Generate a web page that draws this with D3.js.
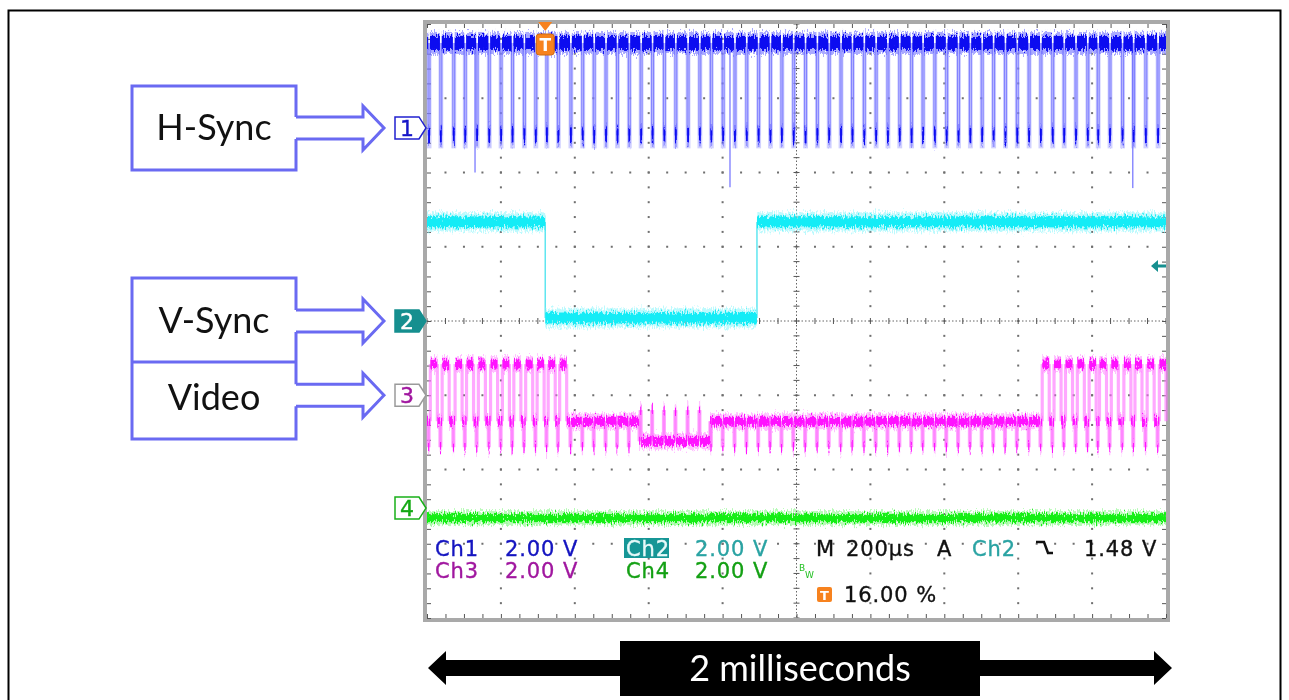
<!DOCTYPE html>
<html><head><meta charset="utf-8">
<script src="https://cdn.jsdelivr.net/npm/d3@7"></script>
<style>body{margin:0;background:#fff}svg{display:block}</style>
</head><body>
<svg id="c" width="1289" height="700"></svg>
<script>
// ---------------- data ----------------
const timeDomainUs = [0, 2000];          // 10 div x 200 µs
const divDomain = [-4, 4];               // 8 vertical divisions
const channelNames = ["Ch1", "Ch2", "Ch3", "Ch4"];
const channelVoltsPerDiv = [2, 2, 2, 2];
const channelPositionDiv = [2.6, 0, -1.0, -2.52];
const channelScaleLabels = ["2.00 V", "2.00 V", "2.00 V", "2.00 V"];

// Ch1 : H-Sync
const hsyncPulseUs = [3, 35, 70, 101, 133, 166, 198, 229, 261, 292, 322, 353, 387, 419, 450, 482, 513, 545, 577, 608, 640, 671,
  704, 736, 767, 799, 831, 863, 895, 927, 958, 990, 1022, 1054, 1086, 1118, 1149, 1181, 1213, 1245, 1277, 1309, 1340,
  1372, 1404, 1436, 1468, 1500, 1531, 1563, 1595, 1627, 1659, 1691, 1722, 1754, 1786, 1814, 1846, 1880, 1910, 1943, 1976];
const hsyncPulseWidthUs = 5;
const hsyncHighV = 2.29, hsyncLowV = -0.2, hsyncTipV = -0.55;
const hsyncDeepUs = [130, 820, 1910];
const hsyncDeepV = [-1.2, -1.6, -1.62];

// Ch2 : V-Sync
const vsyncStepUs = [0, 320, 893];
const vsyncStepV = [2.67, 0.08, 2.67];

// Ch3 : Video
const videoSegmentUs = [0, 382, 574, 766, 1656, 2000];
const videoSegmentKind = ["active", "blank", "low", "blank", "active"];
const videoWhiteV = 0.84, videoBlankV = -0.70, videoLowV = -1.24, videoSpikeDownV = -1.40, videoSpikeUpV = -0.40;
const videoWhiteFromUs = 6, videoWhiteToUs = 25, videoSpikeUs = 2.5;

// Ch4
const ch4LevelV = -0.27;

// readout
const timebaseLabel = ["M", "200µs"];
const triggerSource = "Ch2";
const triggerLevelV = 1.48;
const triggerLevelLabel = "1.48 V";
const triggerPositionPct = 16;
const triggerPositionLabel = "16.00 %";

// ---------------- drawing ----------------
const svg = d3.select("#c");
const plot = {left: 427, right: 1166, top: 24, bottom: 618};
const x = d3.scaleLinear().domain(timeDomainUs).range([plot.left, plot.right]);
const yDiv = d3.scaleLinear().domain(divDomain).range([plot.bottom, plot.top]);
const yCh = (ch, v) => yDiv(channelPositionDiv[ch] + v / channelVoltsPerDiv[ch]);

const defs = svg.append("defs");
const f = defs.append("filter").attr("id", "fuzz").attr("filterUnits", "userSpaceOnUse")
  .attr("x", 0).attr("y", 0).attr("width", 1289).attr("height", 700)
  .attr("color-interpolation-filters", "sRGB");
f.append("feTurbulence").attr("type", "fractalNoise").attr("baseFrequency", "0.9 0.25")
  .attr("numOctaves", 2).attr("seed", 7).attr("result", "n");
f.append("feColorMatrix").attr("in", "n").attr("type", "matrix")
  .attr("values", "0 0 0 0 0.5  0 1 0 0 0  0 0 0 0 0  0 0 0 0 1").attr("result", "m");
f.append("feDisplacementMap").attr("in", "SourceGraphic").attr("in2", "m").attr("scale", 12)
  .attr("xChannelSelector", "R").attr("yChannelSelector", "G");

// outer border
svg.append("rect").attr("x", 8.5).attr("y", 10.5).attr("width", 1272).attr("height", 720)
  .attr("fill", "none").attr("stroke", "#000").attr("stroke-width", 2);

// graticule
const majorT = x.ticks(10), minorT = x.ticks(50);
const majorD = yDiv.ticks(8), minorD = yDiv.ticks(40);
const grid = svg.append("g");
majorT.filter(t => t > timeDomainUs[0] && t < timeDomainUs[1] && t !== 1000).forEach(t => {
  minorD.filter(d => d > divDomain[0] && d < divDomain[1]).forEach(d => {
    grid.append("rect").attr("x", x(t) - 1).attr("y", yDiv(d) - 1).attr("width", 2).attr("height", 2).attr("fill", "#6f6f6f");
  });
});
majorD.filter(d => d > divDomain[0] && d < divDomain[1] && d !== 0).forEach(d => {
  minorT.filter(t => t > timeDomainUs[0] && t < timeDomainUs[1]).forEach(t => {
    grid.append("rect").attr("x", x(t) - 1).attr("y", yDiv(d) - 1).attr("width", 2).attr("height", 2).attr("fill", "#6f6f6f");
  });
});
// centre crosshair
grid.append("line").attr("x1", plot.left).attr("x2", plot.right).attr("y1", yDiv(0)).attr("y2", yDiv(0))
  .attr("stroke", "#666").attr("stroke-dasharray", "1.5,2");
grid.append("line").attr("y1", plot.top).attr("y2", plot.bottom).attr("x1", x(1000)).attr("x2", x(1000))
  .attr("stroke", "#666").attr("stroke-dasharray", "1.5,2");
minorT.forEach(t => grid.append("line").attr("x1", x(t)).attr("x2", x(t)).attr("y1", yDiv(0) - 3).attr("y2", yDiv(0) + 3).attr("stroke", "#555"));
minorD.forEach(d => grid.append("line").attr("y1", yDiv(d)).attr("y2", yDiv(d)).attr("x1", x(1000) - 3).attr("x2", x(1000) + 3).attr("stroke", "#555"));

// frame with inward ticks (axes)
svg.append("rect").attr("x", plot.left - 2).attr("y", plot.top - 2).attr("width", plot.right - plot.left + 4)
  .attr("height", plot.bottom - plot.top + 4).attr("fill", "none").attr("stroke", "#a9a9a9").attr("stroke-width", 4);
const axes = svg.append("g").attr("class", "fr");
axes.append("g").attr("transform", `translate(0,${plot.top})`).call(d3.axisTop(x).tickValues(minorT).tickSize(-4).tickFormat(""));
axes.append("g").attr("transform", `translate(0,${plot.bottom})`).call(d3.axisBottom(x).tickValues(minorT).tickSize(-4).tickFormat(""));
axes.append("g").attr("transform", `translate(${plot.left},0)`).call(d3.axisLeft(yDiv).tickValues(minorD).tickSize(-4).tickFormat(""));
axes.append("g").attr("transform", `translate(${plot.right},0)`).call(d3.axisRight(yDiv).tickValues(minorD).tickSize(-4).tickFormat(""));
axes.selectAll(".domain").remove();
axes.selectAll(".tick line").attr("stroke", "#555");

// trace helper
function drawTrace(ch, steps, st) {
  const g = svg.append("g");
  const y = v => yCh(ch, v);
  const edges = g.append("g");
  steps.forEach((s, i) => {
    if (i === 0) return;
    const p = steps[i - 1];
    edges.append("line").attr("x1", x(s.t)).attr("x2", x(s.t)).attr("y1", y(p.v)).attr("y2", y(s.v))
      .attr("stroke", st.edge).attr("stroke-width", st.edgeW).attr("opacity", st.edgeOp);
  });
  const bands = g.append("g").attr("filter", "url(#fuzz)");
  [["fringe", st.fringe, st.fringeColor, 0.55], ["core", st.core, st.coreColor, 1]].forEach(([k, h, col, op]) => {
    steps.forEach((s, i) => {
      const t1 = i + 1 < steps.length ? steps[i + 1].t : timeDomainUs[1];
      if (t1 <= s.t) return;
      const x0 = x(s.t), w = Math.max(x(t1) - x0, 1.2);
      bands.append("rect").attr("x", x0).attr("width", w).attr("y", y(s.v) - h).attr("height", 2 * h)
        .attr("fill", col).attr("opacity", op);
    });
  });
  return g;
}

// Ch4
drawTrace(3, [{t: timeDomainUs[0], v: ch4LevelV}],
  {core: 4, fringe: 7, coreColor: "#14ee14", fringeColor: "#7cf57c", edge: "#7cf57c", edgeW: 1, edgeOp: 1});

// Ch3 video
const vSteps = [];
videoSegmentKind.forEach((kind, i) => {
  const a = videoSegmentUs[i], b = videoSegmentUs[i + 1];
  const pulses = hsyncPulseUs.filter(t => t >= a && t < b);
  if (kind === "active") {
    vSteps.push({t: a, v: videoBlankV});
    pulses.forEach(t => {
      vSteps.push({t: t, v: videoSpikeDownV});
      vSteps.push({t: t + videoSpikeUs, v: videoBlankV});
      if (t + videoWhiteFromUs < b) {
        vSteps.push({t: t + videoWhiteFromUs, v: videoWhiteV});
        vSteps.push({t: Math.min(t + videoWhiteToUs, b), v: videoBlankV});
      }
    });
  } else {
    const base = kind === "low" ? videoLowV : videoBlankV;
    const spike = kind === "low" ? videoSpikeUpV : videoSpikeDownV;
    vSteps.push({t: a, v: base});
    pulses.forEach(t => {
      vSteps.push({t: t, v: spike});
      vSteps.push({t: t + videoSpikeUs, v: base});
    });
  }
});
drawTrace(2, vSteps, {core: 4.5, fringe: 8, coreColor: "#ff12ff", fringeColor: "#ff8cff", edge: "#ff70ff", edgeW: 3.2, edgeOp: 0.6});

// Ch2 vsync
drawTrace(1, vsyncStepUs.map((t, i) => ({t: t, v: vsyncStepV[i]})),
  {core: 5.5, fringe: 9.5, coreColor: "#14ecf6", fringeColor: "#86f6fb", edge: "#5fe6f0", edgeW: 1.5, edgeOp: 1});

// Ch1 hsync
const hSteps = [{t: timeDomainUs[0], v: hsyncHighV}];
hsyncPulseUs.forEach(t => {
  hSteps.push({t: t, v: hsyncLowV});
  hSteps.push({t: t + hsyncPulseWidthUs, v: hsyncHighV});
});
const g1 = svg.append("g");
hsyncPulseUs.forEach(t => {
  g1.append("rect").attr("x", x(t) - 1.5).attr("width", x(t + hsyncPulseWidthUs) - x(t) + 3)
    .attr("y", yCh(0, hsyncHighV)).attr("height", yCh(0, hsyncTipV) - yCh(0, hsyncHighV))
    .attr("fill", "#9a9aff").attr("opacity", 0.45);
});
hsyncDeepUs.forEach((t, i) => {
  g1.append("line").attr("x1", x(t)).attr("x2", x(t)).attr("y1", yCh(0, hsyncHighV)).attr("y2", yCh(0, hsyncDeepV[i]))
    .attr("stroke", "#8c8cff").attr("stroke-width", 1.5);
});
drawTrace(0, hSteps, {core: 7, fringe: 11, coreColor: "#0c0cf0", fringeColor: "#6464ff", edge: "#7070ff", edgeW: 1.2, edgeOp: 0.8});

// channel markers
const markerStyle = [
  {stroke: "#2020d0", fill: "#fff", text: "#1515c8"},
  {stroke: "#148f8f", fill: "#168f8f", text: "#ffffff"},
  {stroke: "#9a9a9a", fill: "#fff", text: "#a0169f"},
  {stroke: "#18b018", fill: "#fff", text: "#12a812"}
];
channelPositionDiv.forEach((p, i) => {
  const cy = yDiv(p);
  const m = markerStyle[i];
  svg.append("path").attr("d", `M395,${cy - 11} H419 L426,${cy} L419,${cy + 11} H395 Z`)
    .attr("fill", m.fill).attr("stroke", m.stroke).attr("stroke-width", 1.5);
  svg.append("text").attr("x", 407).attr("y", cy + 8).attr("text-anchor", "middle")
    .attr("font-family", "DejaVu Sans").attr("font-size", 22).attr("fill", m.text)
    .attr("stroke", m.text).attr("stroke-width", 0.4).text(String(i + 1));
});

// label boxes with block arrows
const labelStroke = "#6a6af2";
function arrow(cy) {
  return `M296,${cy - 11} H363 V${cy - 22} L384,${cy} L363,${cy + 22} V${cy + 11} H296`;
}
const cy1 = yDiv(channelPositionDiv[0]), cy2 = yDiv(channelPositionDiv[1]), cy3 = yDiv(channelPositionDiv[2]);
const lbl = svg.append("g").attr("fill", "none").attr("stroke", labelStroke).attr("stroke-width", 3).attr("stroke-linejoin", "miter");
lbl.append("path").attr("d", `M296,${cy1 - 11} V86 H132 V170 H296 V${cy1 + 11} ` + arrow(cy1));
lbl.append("path").attr("d", `M296,${cy2 - 11} V278 H132 V439 H296 V${cy3 + 11} M296,${cy2 + 11} V${cy3 - 11} M132,362 H296 ` + arrow(cy2) + " " + arrow(cy3));
[["H-Sync", 140], ["V-Sync", 333], ["Video", 410]].forEach(([s, yb]) => {
  svg.append("text").attr("x", 214).attr("y", yb).attr("text-anchor", "middle")
    .attr("font-family", "Lato").attr("font-size", 36).attr("fill", "#111").text(s);
});

// trigger position marker (top)
const tx = x(timeDomainUs[0] + triggerPositionPct / 100 * (timeDomainUs[1] - timeDomainUs[0]));
svg.append("path").attr("d", `M${tx - 7},22 H${tx + 7} L${tx},31 Z`).attr("fill", "#f7821e");
svg.append("rect").attr("x", tx - 9).attr("y", 34).attr("width", 18).attr("height", 21).attr("rx", 3)
  .attr("fill", "#f7821e").attr("stroke", "#d06a10");
svg.append("text").attr("x", tx).attr("y", 51).attr("text-anchor", "middle").attr("font-family", "DejaVu Sans")
  .attr("font-weight", "bold").attr("font-size", 17).attr("fill", "#fff").text("T");

// trigger level arrow (right)
const ty = yCh(1, triggerLevelV);
svg.append("path").attr("d", `M1151,${ty} L1158,${ty - 6} V${ty - 1.5} H1166 V${ty + 1.5} H1158 V${ty + 6} Z`).attr("fill", "#168f8f");

// readout
const ro = svg.append("g").attr("font-family", "DejaVu Sans").attr("font-size", 21).attr("letter-spacing", 0.9);
const chCols = [[435, 505, 556], [626, 695, 556], [435, 505, 578], [626, 695, 578]];
const chColors = ["#1414c0", "#2aa3a3", "#a0179f", "#14a014"];
ro.append("rect").attr("x", 624).attr("y", 538).attr("width", 45).attr("height", 20).attr("fill", "#169696");
channelNames.forEach((n, i) => {
  const [cx, vx, yb] = chCols[i];
  const col = i === 1 ? "#e8fafa" : chColors[i];
  ro.append("text").attr("x", cx).attr("y", yb).attr("fill", col).attr("stroke", col).attr("stroke-width", 0.35).text(n);
  ro.append("text").attr("x", vx).attr("y", yb).attr("fill", chColors[i]).attr("stroke", chColors[i]).attr("stroke-width", 0.35).text(channelScaleLabels[i]);
});
const blk = (xx, yy, s, c) => ro.append("text").attr("x", xx).attr("y", yy).attr("fill", c).attr("stroke", c).attr("stroke-width", 0.35).text(s);
blk(816, 556, timebaseLabel[0], "#111");
blk(846, 556, timebaseLabel[1], "#111");
blk(937, 556, "A", "#111");
blk(972, 556, triggerSource, "#2aa3a3");
svg.append("path").attr("d", "M1036,542 H1044 L1048,553 H1053").attr("fill", "none").attr("stroke", "#111").attr("stroke-width", 2.5);
blk(1084, 556, triggerLevelLabel, "#111");
ro.append("rect").attr("x", 817).attr("y", 587).attr("width", 15).attr("height", 15).attr("rx", 2).attr("fill", "#f7821e");
ro.append("text").attr("x", 824.5).attr("y", 600).attr("text-anchor", "middle").attr("font-size", 13).attr("font-weight", "bold")
  .attr("letter-spacing", 0).attr("fill", "#fff").text("T");
blk(844, 602, triggerPositionLabel, "#111");
svg.append("text").attr("x", 799).attr("y", 571).attr("font-family", "DejaVu Sans").attr("font-size", 9).attr("fill", "#22c022").text("B");
svg.append("text").attr("x", 805).attr("y", 578).attr("font-family", "DejaVu Sans").attr("font-size", 9).attr("fill", "#22c022").text("W");

// bottom span arrow
const ay = 668;
const bar = svg.append("g");
bar.append("path").attr("d", `M${x(timeDomainUs[0]) + 1},${ay} L${x(timeDomainUs[0]) + 19},${ay - 17} V${ay - 8} H620 V${ay + 8} H${x(timeDomainUs[0]) + 19} V${ay + 17} Z`).attr("fill", "#000");
bar.append("path").attr("d", `M${x(timeDomainUs[1]) + 6},${ay} L${x(timeDomainUs[1]) - 12},${ay - 17} V${ay - 8} H980 V${ay + 8} H${x(timeDomainUs[1]) - 12} V${ay + 17} Z`).attr("fill", "#000");
bar.append("rect").attr("x", 620).attr("y", 641).attr("width", 360).attr("height", 55).attr("fill", "#000");
bar.append("text").attr("x", 800).attr("y", 681).attr("text-anchor", "middle").attr("font-family", "Lato")
  .attr("font-size", 36).attr("fill", "#fff").text("2 milliseconds");
</script>
</body></html>
